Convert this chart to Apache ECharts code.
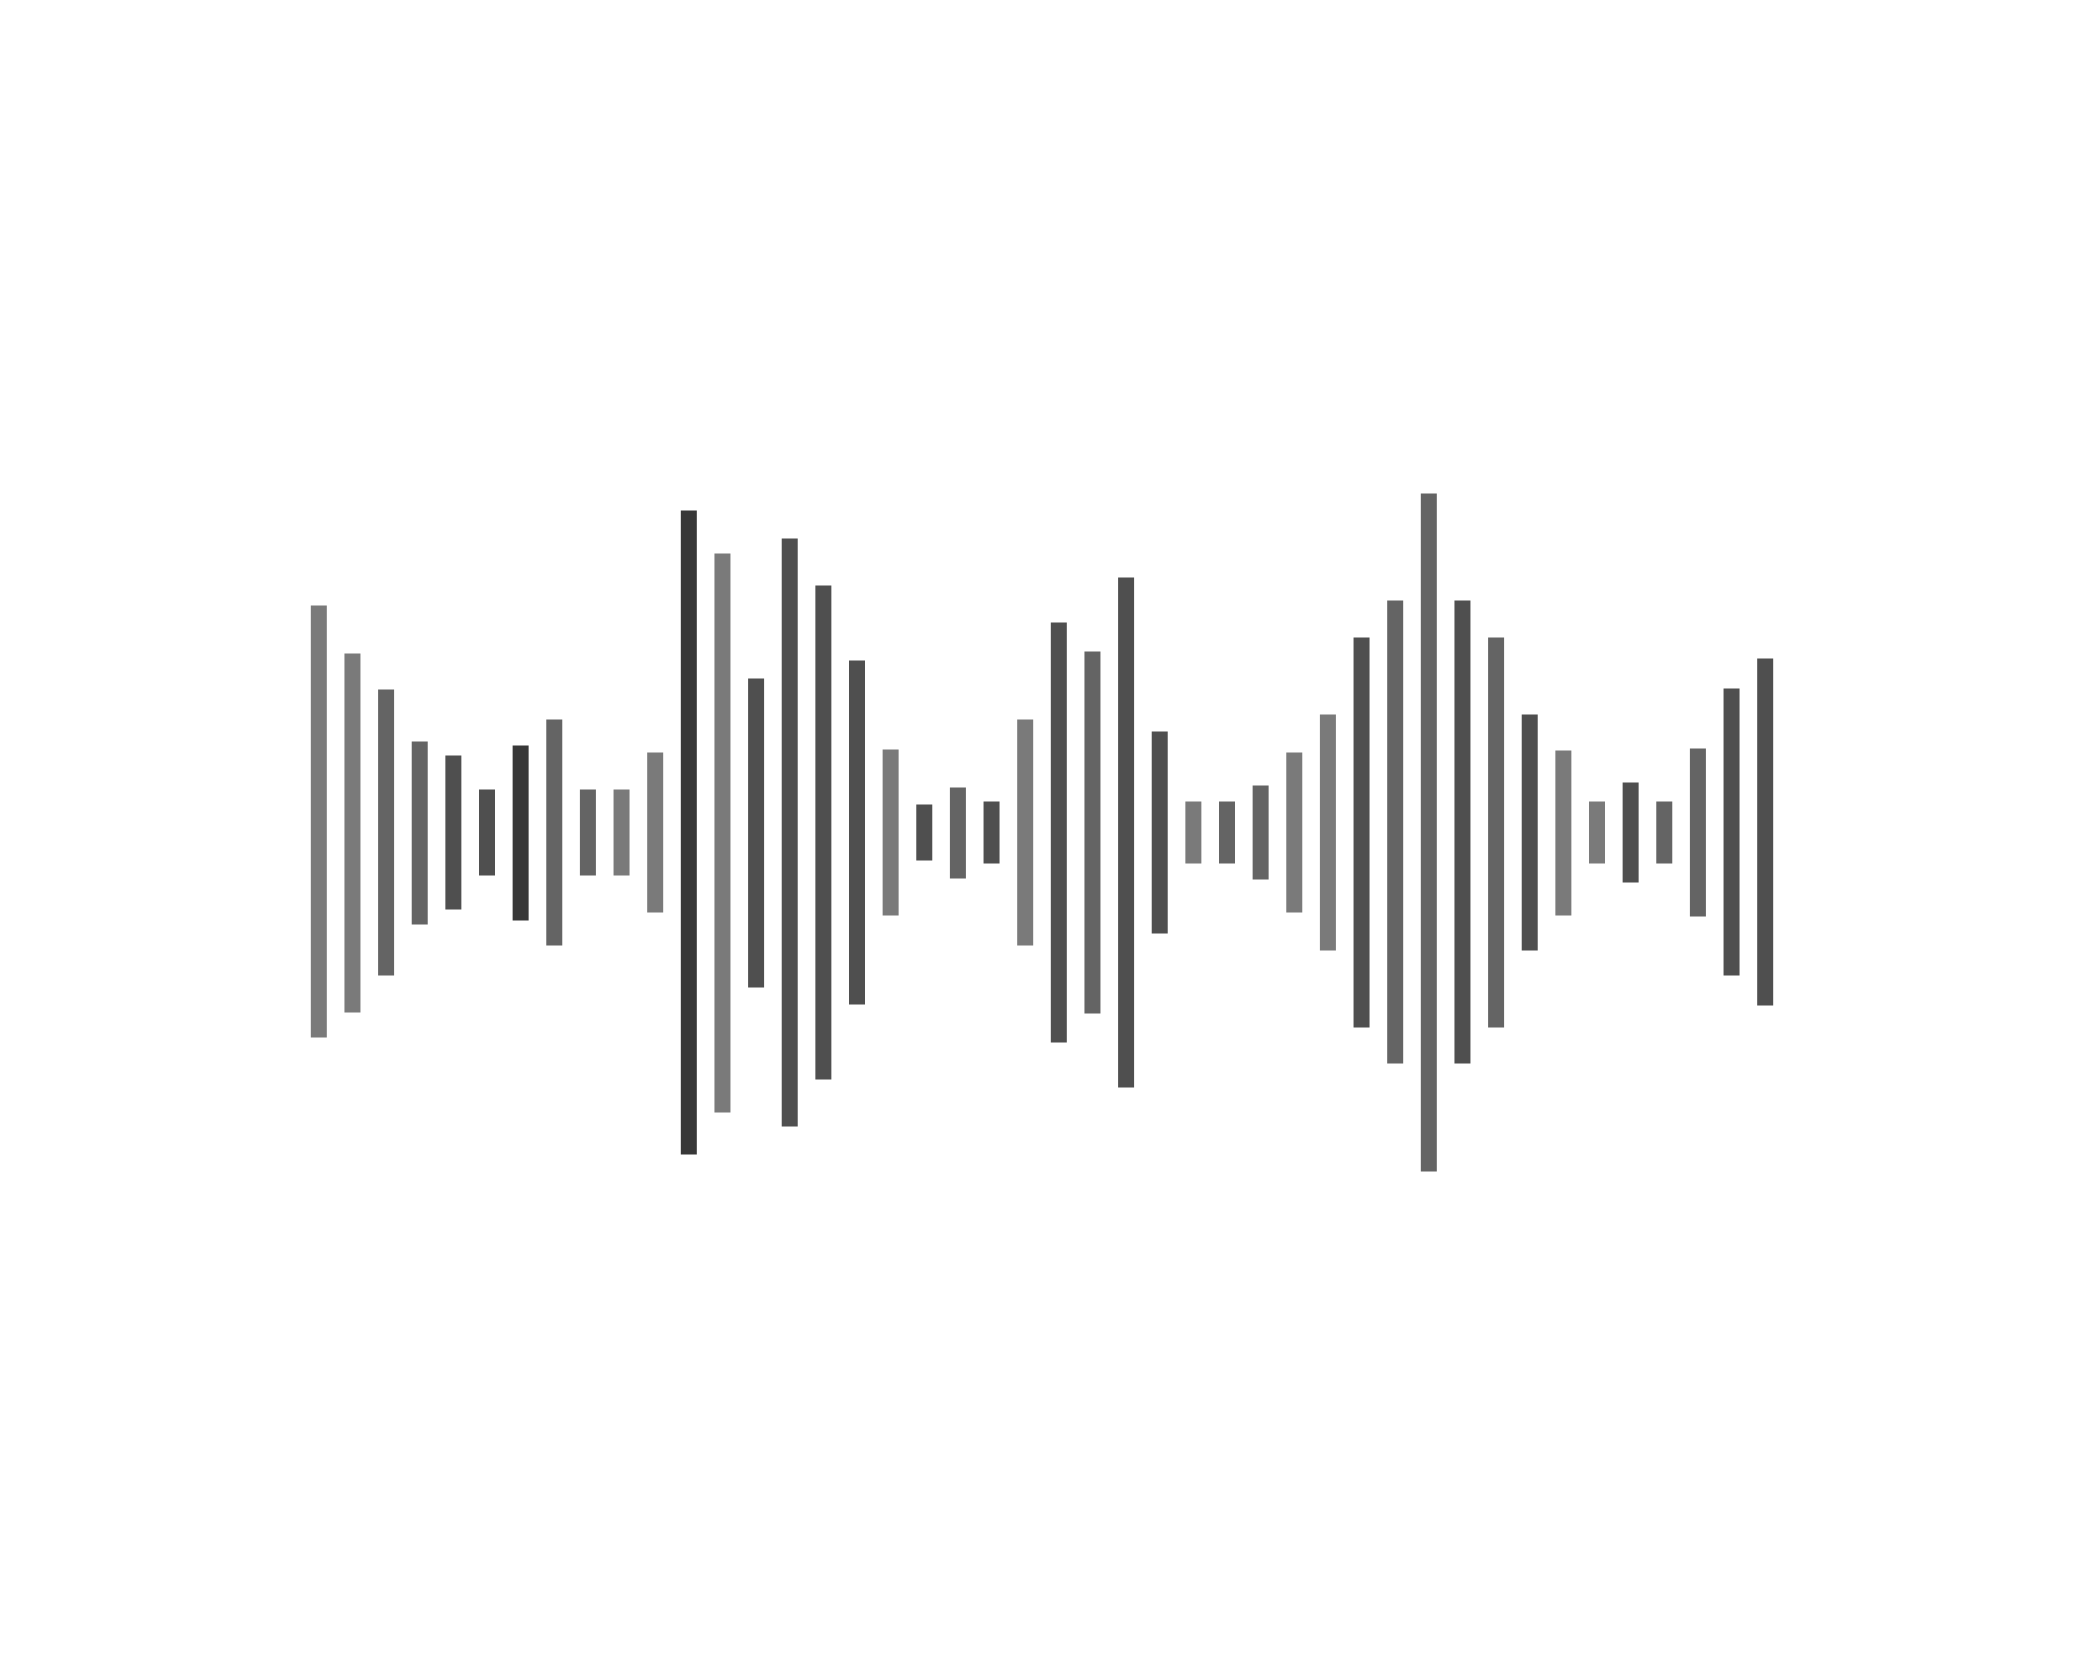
<!DOCTYPE html>
<html>
<head>
<meta charset="utf-8">
<script src="https://cdn.jsdelivr.net/npm/echarts@6/dist/echarts.min.js"></script>
<style>
    html, body { margin: 0; padding: 0; background: #fff; }
    #chartDiv { width: 2083px; height: 1666px; }
</style>
</head>
<body>
<div id="chartDiv"></div>
<script>
// Waveform data: upper / lower amplitude of each bar (centre line = 0)
const barIndex = Array.from({ length: 44 }, (_, i) => String(i + 1));

const upperValues = [
    22.7, 17.9, 14.3, 9.1, 7.7, 4.3, 8.7, 11.3, 4.3, 4.3, 8.0,
    32.2, 27.9, 15.4, 29.4, 24.7, 17.2, 8.3, 2.8, 4.5, 3.1, 11.3,
    21.0, 18.1, 25.5, 10.1, 3.1, 3.1, 4.7, 8.0, 11.8, 19.5, 23.2,
    33.9, 23.2, 19.5, 11.8, 8.2, 3.1, 5.0, 3.1, 8.4, 14.4, 17.4
];

const lowerValues = [
    -20.5, -18.0, -14.3, -9.2, -7.7, -4.3, -8.8, -11.3, -4.3, -4.3, -8.0,
    -32.2, -28.0, -15.5, -29.4, -24.7, -17.2, -8.3, -2.8, -4.6, -3.1, -11.3,
    -21.0, -18.1, -25.5, -10.1, -3.1, -3.1, -4.7, -8.0, -11.8, -19.5, -23.1,
    -33.9, -23.1, -19.5, -11.8, -8.3, -3.1, -5.0, -3.1, -8.4, -14.3, -17.3
];

// shade of each bar: 0 light, 1 mid, 2 dark, 3 darkest
const shadeIndex = [
    0, 0, 1, 1, 2, 2, 3, 1, 1, 0, 0,
    3, 0, 2, 2, 2, 2, 0, 2, 1, 2, 0,
    2, 1, 2, 2, 0, 1, 1, 0, 0, 2, 1,
    1, 2, 1, 2, 0, 0, 2, 1, 1, 2, 2
];

const shadeColors = ['#7a7a7a', '#646464', '#4f4f4f', '#383838'];

function renderChart() {
    const chartDom = document.getElementById('chartDiv');
    const myChart = echarts.init(chartDom, null, { renderer: 'canvas' });

    const baseData = lowerValues.slice();
    const spanData = upperValues.map((u, i) => ({
        value: u - lowerValues[i],
        itemStyle: { color: shadeColors[shadeIndex[i]] }
    }));

    const option = {
        backgroundColor: '#ffffff',
        animation: false,
        grid: { left: 302, width: 1480, top: 432.5, height: 800 },
        xAxis: {
            type: 'category',
            data: barIndex,
            show: false
        },
        yAxis: {
            type: 'value',
            min: -40,
            max: 40,
            show: false
        },
        series: [
            {
                name: 'base',
                type: 'bar',
                stack: 'wave',
                stackStrategy: 'all',
                barWidth: 16,
                data: baseData,
                itemStyle: { color: 'transparent' },
                silent: true
            },
            {
                name: 'amplitude',
                type: 'bar',
                stack: 'wave',
                stackStrategy: 'all',
                barWidth: 16,
                data: spanData
            }
        ]
    };

    myChart.setOption(option);
}

renderChart();
</script>
</body>
</html>
